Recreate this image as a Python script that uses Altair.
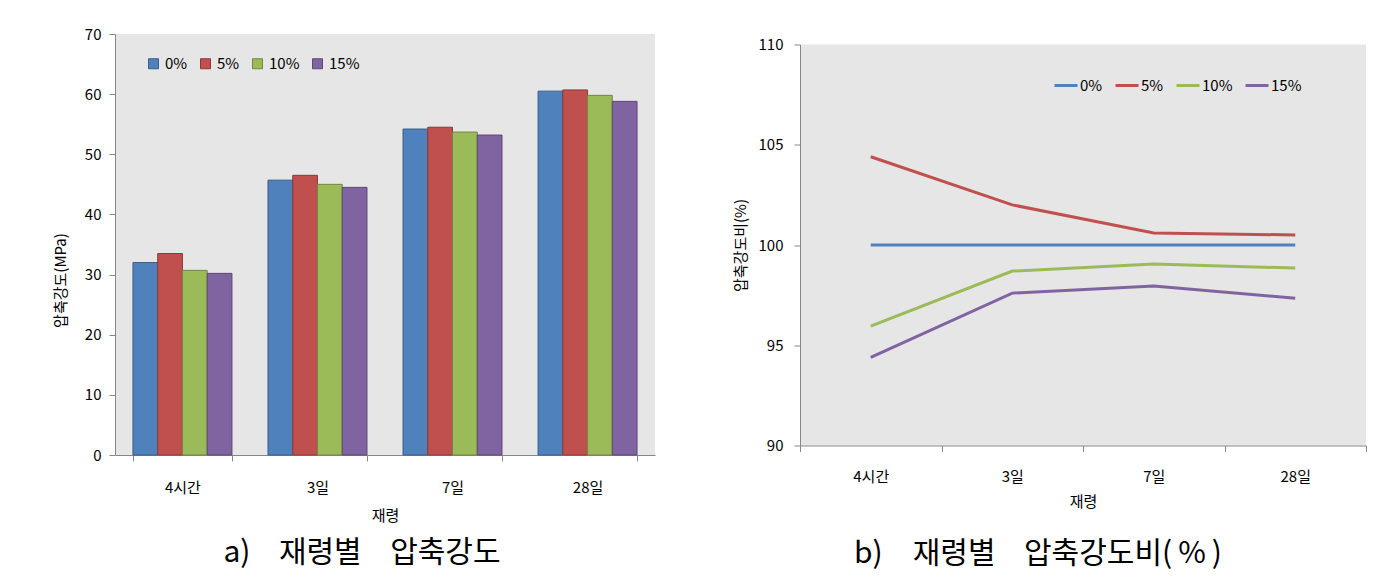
import altair as alt
import pandas as pd

FONT = "Noto Sans CJK KR"
NB = "\u00a0"
EN = "\u2002"
THIN = "\u2009"

ages = ["4시간", "3일", "7일", "28일"]
mixes = ["0%", "5%", "10%", "15%"]

# compressive strength (MPa)
strength_0 = [32.0, 45.7, 54.2, 60.5]
strength_5 = [33.5, 46.5, 54.5, 60.7]
strength_10 = [30.7, 45.0, 53.7, 59.8]
strength_15 = [30.2, 44.5, 53.2, 58.8]

# strength ratio (%)
ratio_0 = [100.0, 100.0, 100.0, 100.0]
ratio_5 = [104.4, 102.0, 100.6, 100.5]
ratio_10 = [95.95, 98.7, 99.05, 98.85]
ratio_15 = [94.4, 97.6, 97.95, 97.35]

fills = ["#4F81BD", "#C0504D", "#9BBB59", "#8064A2"]
strokes = ["#385D8A", "#8C3836", "#71893F", "#5C4776"]

caption_a = "a)" + EN + NB + NB + "재령별" + EN + NB + NB + "압축강도"
caption_b = "b)" + EN + EN + "재령별" + EN + NB + NB + "압축강도비(" + THIN + "%" + THIN + ")"

rows1 = []
for m, vals in zip(mixes, [strength_0, strength_5, strength_10, strength_15]):
    for a, v in zip(ages, vals):
        rows1.append({"재령": a, "배합": m, "압축강도": v})
df1 = pd.DataFrame(rows1)

rows2 = []
for m, vals in zip(mixes, [ratio_0, ratio_5, ratio_10, ratio_15]):
    for a, v in zip(ages, vals):
        rows2.append({"재령": a, "배합": m, "비": v})
df2 = pd.DataFrame(rows2)

leg1 = alt.Legend(
    title=None, orient="none", legendX=31, legendY=22, direction="horizontal",
    columns=4, symbolType="square", symbolSize=100, symbolStrokeWidth=1,
    labelFont=FONT, labelFontSize=15, labelColor="#000000", labelOffset=4,
    columnPadding=10,
)

bars = alt.Chart(df1).mark_bar(strokeWidth=1).encode(
    x=alt.X("재령:N", sort=ages,
            scale=alt.Scale(paddingInner=0.267, paddingOuter=0.133),
            axis=alt.Axis(title="재령", labelAngle=0, tickBand="extent",
                          labelPadding=19, titlePadding=13)),
    xOffset=alt.XOffset("배합:N", sort=mixes,
                        scale=alt.Scale(domain=mixes, paddingInner=0, paddingOuter=0)),
    y=alt.Y("압축강도:Q",
            scale=alt.Scale(domain=[0, 70], nice=False),
            axis=alt.Axis(title="압축강도(MPa)", values=list(range(0, 71, 10)),
                          labelPadding=8, titleX=-55, titleY=246,
                          titleBaseline="middle")),
    fill=alt.Fill("배합:N", sort=mixes,
                  scale=alt.Scale(domain=mixes, range=fills), legend=leg1),
    stroke=alt.Stroke("배합:N", sort=mixes,
                      scale=alt.Scale(domain=mixes, range=strokes), legend=leg1),
).properties(
    width=540, height=421,
    title=alt.TitleParams(caption_a, orient="bottom", anchor="middle",
                          frame="group", dx=-23, offset=15, font=FONT,
                          fontSize=30, fontWeight="normal", color="#000000"),
)

leg2 = alt.Legend(
    title=None, orient="none", legendX=253, legendY=28, direction="horizontal",
    columns=4, symbolType="stroke", symbolSize=529, symbolStrokeWidth=3,
    labelFont=FONT, labelFontSize=15, labelColor="#000000", labelOffset=1,
    columnPadding=6,
)

lines = alt.Chart(df2).mark_line(strokeWidth=3).encode(
    x=alt.X("재령:N", sort=ages,
            scale=alt.Scale(type="band", paddingInner=0, paddingOuter=0),
            axis=alt.Axis(title="재령", labelAngle=0, tickBand="extent",
                          labelPadding=18, titlePadding=10)),
    y=alt.Y("비:Q",
            scale=alt.Scale(domain=[90, 110], nice=False, zero=False),
            axis=alt.Axis(title="압축강도비(%)", values=[90, 95, 100, 105, 110],
                          labelPadding=11, titleX=-60, titleY=200.5,
                          titleBaseline="middle")),
    color=alt.Color("배합:N", sort=mixes,
                    scale=alt.Scale(domain=mixes, range=fills), legend=leg2),
).properties(
    width=566, height=401,
    title=alt.TitleParams(caption_b, orient="bottom", anchor="middle",
                          frame="group", dx=-45, offset=29, font=FONT,
                          fontSize=30, fontWeight="normal", color="#000000"),
)

# tiny invisible spacer that pushes the right panel down a little
spacer_df = pd.DataFrame({"t": [""]})
spacer = alt.Chart(spacer_df).mark_text().encode(text="t:N").properties(
    width=1, height=1, view=alt.ViewBackground(fill="#ffffff", stroke=None)
)

right = alt.vconcat(spacer, lines, spacing=-2.5).resolve_scale(
    color="independent"
).resolve_legend(color="independent")

chart = alt.hconcat(bars, right, spacing=78).resolve_scale(
    color="independent", fill="independent", stroke="independent"
).resolve_legend(
    color="independent", fill="independent", stroke="independent"
).properties(
    padding={"left": 45, "top": 19, "right": 5, "bottom": 5},
).configure_view(
    fill="#E6E6E6", stroke=None,
).configure_axis(
    domainColor="#868686", tickColor="#868686", tickSize=6, grid=False,
    labelFont=FONT, titleFont=FONT, labelFontSize=15, titleFontSize=15,
    labelColor="#000000", titleColor="#000000", titleFontWeight="normal",
)

chart.save("out.html", embed_options={"renderer": "svg", "actions": False})
